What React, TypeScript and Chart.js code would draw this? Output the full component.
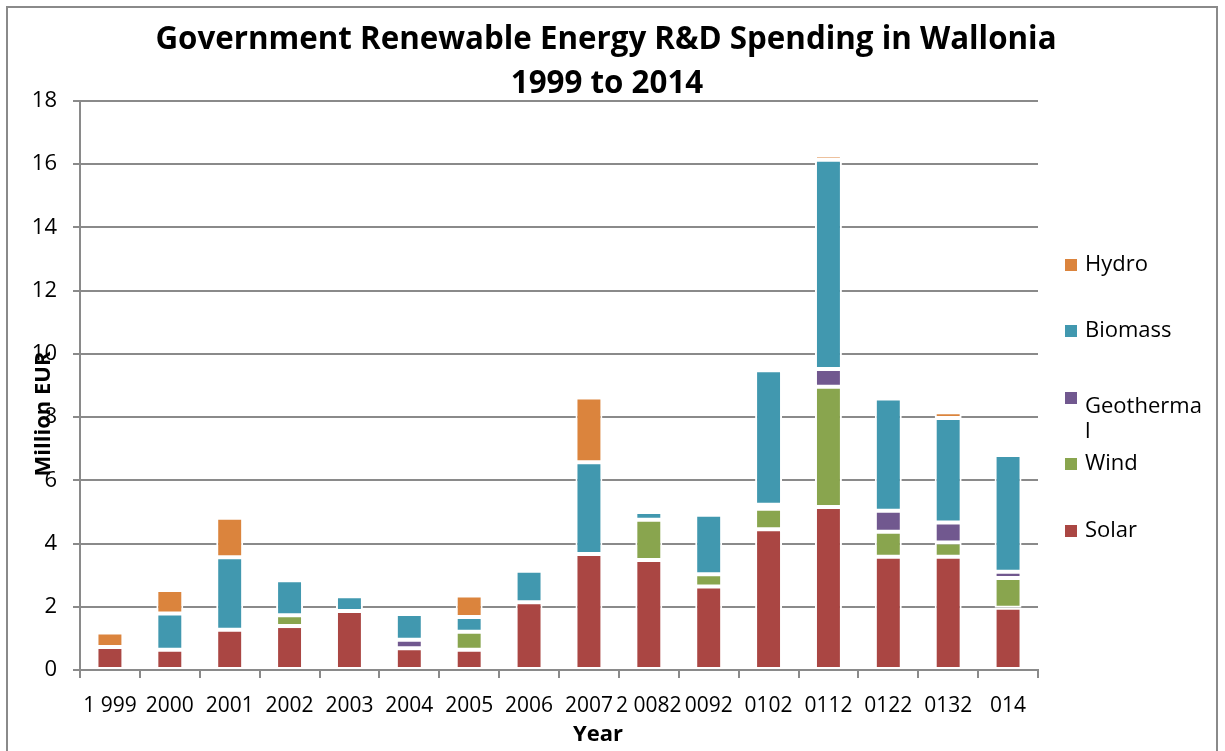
import React, { useEffect, useRef } from "react";
import { Chart, registerables } from "chart.js";

Chart.register(...registerables);

const categories = ["1 999", "2000", "2001", "2002", "2003", "2004", "2005", "2006", "2007", "2 0082", "0092", "0102", "0112", "0122", "0132", "014"];
const solar = [0.73, 0.64, 1.27, 1.39, 1.87, 0.69, 0.64, 2.14, 3.67, 3.48, 2.64, 4.45, 5.16, 3.58, 3.58, 1.97];
const wind = [null, null, null, 0.34, null, null, 0.57, null, null, 1.27, 0.39, 0.65, 3.8, 0.79, 0.45, 0.94];
const geothermal = [null, null, null, null, null, 0.27, null, null, null, null, null, 0.13, 0.56, 0.67, 0.64, 0.2];
const biomass = [null, 1.15, 2.3, 1.11, 0.46, 0.81, 0.47, 1.0, 2.9, 0.25, 1.88, 4.25, 6.62, 3.55, 3.3, 3.69];
const hydro = [0.46, 0.74, 1.25, null, null, null, 0.68, null, 2.05, null, 0.05, 0.05, 0.14, null, 0.18, null];
const yTicks = { min: 0, max: 18, step: 2 };

const titleLines = ["Government Renewable Energy R&D Spending in Wallonia", "1999 to 2014"];
const xTitle = "Year";
const yTitle = "Million EUR";

const COLORS = {
  Solar: "#AA4643",
  Wind: "#89A54E",
  Geothermal: "#71588F",
  Biomass: "#4198AF",
  Hydro: "#DB843D",
};

const GRID = "#8a8a8a";
const FONT = '"Open Sans", "Noto Sans", sans-serif';

export default function App() {
  const ref = useRef<HTMLCanvasElement>(null);

  useEffect(() => {
    const canvas = ref.current;
    if (!canvas) return;

    const decor = {
      id: "decor",
      afterDraw(chart: any) {
        const ctx = chart.ctx as CanvasRenderingContext2D;
        ctx.save();
        // outer frame
        ctx.strokeStyle = GRID;
        ctx.lineWidth = 2;
        ctx.strokeRect(7, 7, 1210, 780);

        // title
        ctx.fillStyle = "#000";
        ctx.textAlign = "center";
        ctx.textBaseline = "alphabetic";
        ctx.font = `bold 31.3px ${FONT}`;
        ctx.fillText(titleLines[0], 606, 49);
        ctx.fillText(titleLines[1], 607, 93);

        // x title
        ctx.font = `bold 22px ${FONT}`;
        ctx.fillText(xTitle, 598, 741);

        // y title
        ctx.save();
        ctx.translate(50, 414);
        ctx.rotate(-Math.PI / 2);
        ctx.textAlign = "center";
        ctx.fillText(yTitle, 0, 0);
        ctx.restore();

        // legend
        const items = [
          { name: "Hydro", lines: ["Hydro"], sq: 265, ty: 265 },
          { name: "Biomass", lines: ["Biomass"], sq: 331, ty: 331 },
          { name: "Geothermal", lines: ["Geotherma", "l"], sq: 398, ty: 407 },
          { name: "Wind", lines: ["Wind"], sq: 464, ty: 464 },
          { name: "Solar", lines: ["Solar"], sq: 531, ty: 531 },
        ];
        ctx.font = `22px ${FONT}`;
        ctx.textAlign = "left";
        ctx.textBaseline = "middle";
        for (const it of items) {
          ctx.fillStyle = (COLORS as any)[it.name];
          ctx.fillRect(1065, it.sq - 6, 12, 12);
          ctx.fillStyle = "#000";
          it.lines.forEach((l, i) => ctx.fillText(l, 1085, it.ty + i * 25));
        }
        ctx.restore();
      },
    };

    const mk = (label: string, data: (number | null)[]) => ({
      label,
      data,
      backgroundColor: (COLORS as any)[label],
      borderColor: "#ffffff",
      borderWidth: 2,
      borderSkipped: false,
      barPercentage: 0.45,
      categoryPercentage: 1,
    });

    const chart = new Chart(canvas, {
      type: "bar",
      data: {
        labels: categories,
        datasets: [
          mk("Solar", solar),
          mk("Wind", wind),
          mk("Geothermal", geothermal),
          mk("Biomass", biomass),
          mk("Hydro", hydro),
        ] as any,
      },
      options: {
        responsive: false,
        animation: false,
        layout: { padding: { left: 0, top: 101, right: 187, bottom: 0 } },
        plugins: {
          legend: { display: false },
          title: { display: false },
          tooltip: { enabled: false },
        },
        scales: {
          x: {
            stacked: true,
            grid: {
              display: true,
              drawOnChartArea: false,
              drawTicks: true,
              tickLength: 8,
              color: GRID,
              lineWidth: 2,
              offset: true,
            },
            border: { display: true, color: GRID, width: 2 },
            ticks: {
              font: { family: FONT, size: 21 },
              color: "#000",
              padding: 15,
              maxRotation: 0,
              autoSkip: false,
            },
            afterFit: (s: any) => {
              s.height = 81;
            },
          },
          y: {
            stacked: true,
            min: yTicks.min,
            max: yTicks.max,
            ticks: {
              stepSize: yTicks.step,
              font: { family: FONT, size: 22 },
              color: "#000",
              padding: 16,
            },
            grid: { color: GRID, lineWidth: 2, tickLength: 7, drawTicks: true },
            border: { display: true, color: GRID, width: 2 },
            afterFit: (s: any) => {
              s.width = 80;
            },
          },
        },
      } as any,
      plugins: [decor],
    });

    return () => chart.destroy();
  }, []);

  return (
    <div style={{ position: "absolute", left: 0, top: 0, width: 1225, height: 751, background: "#fff" }}>
      <canvas ref={ref} width={1225} height={751} style={{ display: "block" }} />
    </div>
  );
}
